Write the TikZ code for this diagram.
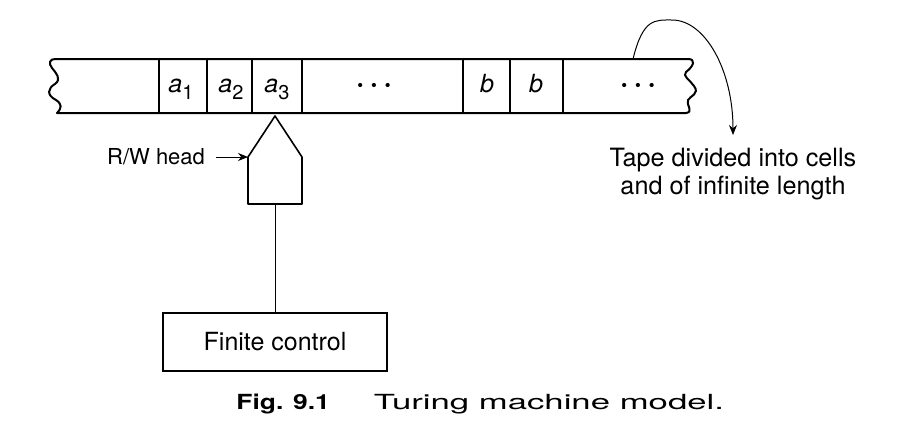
\documentclass[tikz,border=0pt]{standalone}
\usepackage{fontspec}
\usepackage{graphicx}
\setmainfont{TeX Gyre Heros}
\usetikzlibrary{arrows.meta}
\usetikzlibrary{calc}

\begin{document}
\begin{tikzpicture}[x=0.5pt,y=-0.5pt]
        \newcommand{\fignineonetapetop}{59}
        \newcommand{\fignineonetapebot}{113}
        \newcommand{\fignineonetapebase}{92}
        \newcommand{\fignineoneheadcent}{275}
        \newcommand{\fignineoneheadleft}{248}
        \newcommand{\fignineoneheadright}{302}
        \newcommand{\fignineoneheadapex}{116}
        \newcommand{\fignineoneheadshoulder}{157}
        \newcommand{\fignineoneheadbase}{204}
        \newcommand{\fignineonecellsym}[2]{\textit{#1}\raisebox{-3.5pt}{\fontsize{10}{12}\selectfont #2}}
        \newcommand{\fignineonedots}{{\fontsize{14}{16}\selectfont\textbf{·}\hspace{3pt}\textbf{·}\hspace{3pt}\textbf{·}}}
        \tikzset{
          celltext/.style={font=\fontsize{12.5}{15}\selectfont, anchor=base, inner sep=0pt},
          notetext/.style={font=\fontsize{12.6}{14}\selectfont, align=center},
          controlbox/.style={draw, line width=0.7pt, font=\fontsize{12.5}{15}\selectfont, minimum width=112pt, minimum height=29pt},
          pointer/.style={-{Stealth[length=5pt,width=4pt]}, line width=0.5pt}
        }
        \useasboundingbox (0,0) rectangle (914,440);
        % tape, wavy ends
        \draw[line width=1pt, line join=round]
            (55,\fignineonetapetop) -- (688,\fignineonetapetop)
            .. controls (696,59) and (694,66) .. (686,72)
            .. controls (682,76) and (690,80) .. (694,86)
            .. controls (700,94) and (690,96) .. (688,100)
            .. controls (686,105) and (694,112) .. (686,\fignineonetapebot)
            -- (57,\fignineonetapebot)
            .. controls (62,108) and (62,104) .. (56,100)
            .. controls (46,95) and (48,88) .. (55,84)
            .. controls (62,79) and (56,73) .. (52,68)
            .. controls (48,63) and (50,59) .. (55,\fignineonetapetop);
        \foreach \xcell in {159,207,252,302,463,510,563}
            \draw[line width=0.8pt] (\xcell,\fignineonetapetop) -- (\xcell,\fignineonetapebot);
        \node[celltext] (cellaone) at (181,\fignineonetapebase) {\fignineonecellsym{a}{1}};
        \node[celltext] (cellatwo) at (231,\fignineonetapebase) {\fignineonecellsym{a}{2}};
        \node[celltext] (cellathree) at (277,\fignineonetapebase) {\fignineonecellsym{a}{3}};
        \node[celltext] (dotsleft) at (374,\fignineonetapebase) {\fignineonedots};
        \node[celltext] (cellbone) at (487,\fignineonetapebase) {\textit{b}};
        \node[celltext] (cellbtwo) at (536,\fignineonetapebase) {\textit{b}};
        \node[celltext] (dotsright) at (638,\fignineonetapebase) {\fignineonedots};
        % read/write head
        \draw[line width=0.8pt, line join=round]
            (\fignineoneheadleft,\fignineoneheadbase) -- (\fignineoneheadleft,\fignineoneheadshoulder)
            -- (\fignineoneheadcent,\fignineoneheadapex) -- (\fignineoneheadright,\fignineoneheadshoulder)
            -- (\fignineoneheadright,\fignineoneheadbase) -- cycle;
        \coordinate (headleft) at (\fignineoneheadleft,\fignineoneheadshoulder);
        \coordinate (headbase) at (\fignineoneheadcent,\fignineoneheadbase);
        \node[font=\fontsize{11}{13}\selectfont, anchor=east] (rwlabel) at (212,\fignineoneheadshoulder) {R/W head};
        \draw[pointer, shorten <=2pt] (rwlabel) -- (headleft);
        % finite control
        \node[controlbox] (control) at (\fignineoneheadcent,342) {Finite control};
        \draw[line width=0.5pt] (headbase) -- (control);
        % tape note
        \coordinate (arcstart) at (633,\fignineonetapetop);
        \node[notetext] (tapenote) at (733,174) {Tape divided into cells\\and of infinite length};
        \draw[pointer, shorten >=3pt] (arcstart) .. controls (643,18) and (655,20) .. (672,20)
            .. controls (705,20) and (733,70) .. (tapenote.north);
        % caption
        \node[anchor=base west, inner sep=0pt, font=\fontsize{10.4}{12}\selectfont] (caption) at (236,409)
            {\scalebox{1.27}[1]{\textbf{Fig. 9.1}}\hspace{22pt}\scalebox{1.67}[1]{Turing machine model.}};
\end{tikzpicture}
\end{document}
